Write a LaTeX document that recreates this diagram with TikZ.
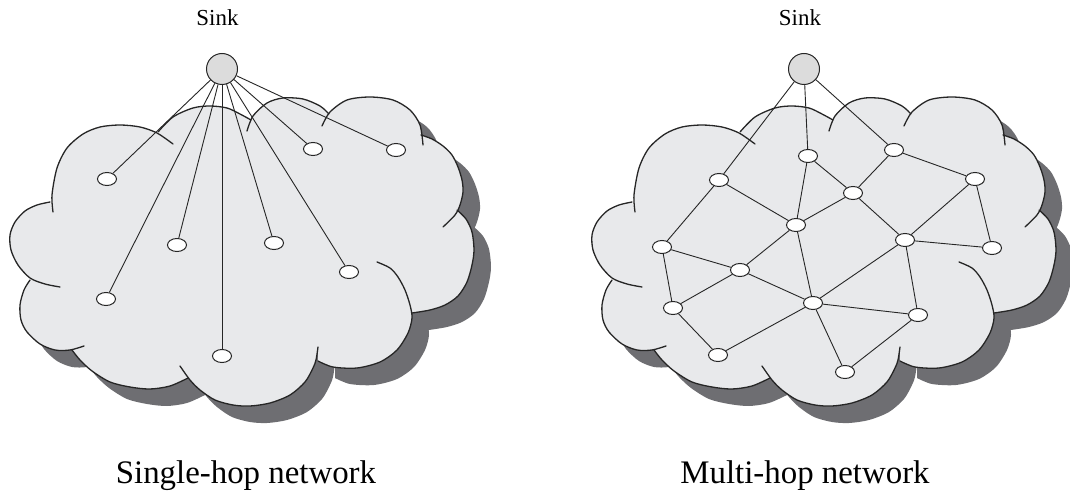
\documentclass[tikz,border=0pt]{standalone}
\usepackage{fontspec}
\setmainfont{Liberation Serif}
\usetikzlibrary{shapes.geometric}
\definecolor{cloudgray}{HTML}{E8E9EB}
\definecolor{shadowgray}{HTML}{6E6E72}
\definecolor{sinkgray}{HTML}{DCDCDC}
\definecolor{inkc}{HTML}{262626}
\tikzset{
 cloudfill/.style={fill=cloudgray},
 shadowfill/.style={fill=shadowgray},
 cloudline/.style={draw=inkc, line width=1.3bp, line cap=round, line join=round},
 sensor/.style={ellipse, draw=inkc, fill=white, line width=1bp, minimum width=19bp, minimum height=13bp, inner sep=0pt},
 sinknode/.style={circle, draw=inkc, fill=sinkgray, line width=1bp, minimum size=31bp, inner sep=0pt},
 link/.style={draw=inkc, line width=0.9bp},
 sinklabel/.style={font=\fontsize{23}{26}\selectfont, anchor=base, inner sep=0pt},
 caption/.style={font=\fontsize{33}{38}\selectfont, anchor=base, inner sep=0pt},
}
\def\cloudA{(53,212) (52,195) (57,168) (67,148) (83,134) (100,127) (120,125) (140,127) (157,133) (173,144)}
\def\cloudB{(158,132) (173,117) (193,108) (210,106) (227,108) (240,114) (251,120)}
\def\cloudC{(247,131) (253,116) (267,103) (283,98) (303,99) (320,106) (329,114)}
\def\cloudD{(322,126) (330,112) (347,100) (370,97) (393,100) (410,110) (420,125) (423,145)}
\def\cloudE{(421,135) (432,139) (443,146) (452,155) (458,167) (462,180) (463,192) (460,205) (455,215) (443,227)}
\def\cloudF{(457,210) (466,219) (472,232) (474,250) (472,265) (467,282) (458,296) (445,305) (430,310) (412,313)}
\def\cloudG{(377,262) (390,268) (398,277) (405,290) (410,305) (412,318) (408,333) (397,350) (380,362) (357,368) (333,367) (318,361)}
\def\cloudH{(318,347) (316,360) (313,368) (305,382) (290,395) (270,403) (250,406) (233,405) (215,400) (200,390) (190,380) (180,366)}
\def\cloudI{(188,378) (170,386) (150,389) (130,387) (110,382) (92,371) (80,360) (72,350)}
\def\cloudJ{(84,346) (70,350) (55,350) (40,344) (27,332) (21,320) (20,305) (24,290) (30,280)}
\def\cloudK{(60,287) (45,284) (30,278) (18,265) (11,250) (10,235) (15,222) (25,211) (37,205) (50,202)}
\newcommand\cldfill[1]{\edef\cldtmp{\noexpand\fill[#1] plot[smooth] coordinates {\cloudA} -- plot[smooth] coordinates {\cloudB} -- plot[smooth] coordinates {\cloudC} -- plot[smooth] coordinates {\cloudD} -- plot[smooth] coordinates {\cloudE} -- plot[smooth] coordinates {\cloudF} -- plot[smooth] coordinates {\cloudG} -- plot[smooth] coordinates {\cloudH} -- plot[smooth] coordinates {\cloudI} -- plot[smooth] coordinates {\cloudJ} -- plot[smooth] coordinates {\cloudK} -- cycle;}\cldtmp}
\newcommand\cldlobe[1]{\edef\cldtmp{\noexpand\draw[cloudline] plot[smooth] coordinates {#1};}\cldtmp}
\newcommand\drawcloud{%
 \begin{scope}[shift={(17,17)}]\cldfill{shadowfill}\end{scope}
 \cldfill{cloudfill}
 \cldlobe{\cloudA}\cldlobe{\cloudB}\cldlobe{\cloudC}\cldlobe{\cloudD}
 \cldlobe{\cloudE}\cldlobe{\cloudF}\cldlobe{\cloudG}\cldlobe{\cloudH}
 \cldlobe{\cloudI}\cldlobe{\cloudJ}\cldlobe{\cloudK}}
\begin{document}
\begin{tikzpicture}[x=1bp, y=-1bp]
\useasboundingbox (0,0) rectangle (1070,493);
% clouds
\drawcloud
\begin{scope}[shift={(582,0)}]\drawcloud\end{scope}
% left: single-hop
\node[sinklabel] (sinkA) at (217.5,26) {Sink};
\node[sinknode] (sA) at (222,69) {};
\node[sensor] (a1) at (107,179) {};
\node[sensor] (a2) at (177,245) {};
\node[sensor] (a3) at (106,299) {};
\node[sensor] (a4) at (222,356) {};
\node[sensor] (a5) at (274,243) {};
\node[sensor] (a6) at (349,272) {};
\node[sensor] (a7) at (313,149) {};
\node[sensor] (a8) at (396,150) {};
\foreach \t in {a1,a2,a3,a4,a5,a6,a7,a8} \draw[link] (sA) -- (\t);
% right: multi-hop
\node[sinklabel] (sinkB) at (800,26) {Sink};
\node[sinknode] (sB) at (804,69) {};
\node[sensor] (b1) at (719,180) {};
\node[sensor] (b2) at (808,156) {};
\node[sensor] (b3) at (894,150) {};
\node[sensor] (b4) at (975,179) {};
\node[sensor] (b5) at (853,193) {};
\node[sensor] (b6) at (796,225) {};
\node[sensor] (b7) at (905,240) {};
\node[sensor] (b8) at (992,248) {};
\node[sensor] (b9) at (662,247) {};
\node[sensor] (b10) at (740,270) {};
\node[sensor] (b11) at (813,303) {};
\node[sensor] (b12) at (673,308) {};
\node[sensor] (b13) at (918,315) {};
\node[sensor] (b14) at (718,355) {};
\node[sensor] (b15) at (845,372) {};
\foreach \u/\v in {sB/b1,sB/b2,sB/b3,b1/b9,b1/b6,b2/b6,b2/b5,b3/b5,b3/b4,b5/b6,b5/b7,b4/b7,b4/b8,b7/b8,b7/b11,b7/b13,b6/b10,b6/b11,b9/b10,b9/b12,b10/b12,b10/b11,b11/b14,b11/b13,b11/b15,b12/b14,b13/b15}
  \draw[link] (\u) -- (\v);
% captions
\node[caption] (capA) at (246,483) {Single-hop network};
\node[caption] (capB) at (805,483) {Multi-hop network};
\end{tikzpicture}
\end{document}
